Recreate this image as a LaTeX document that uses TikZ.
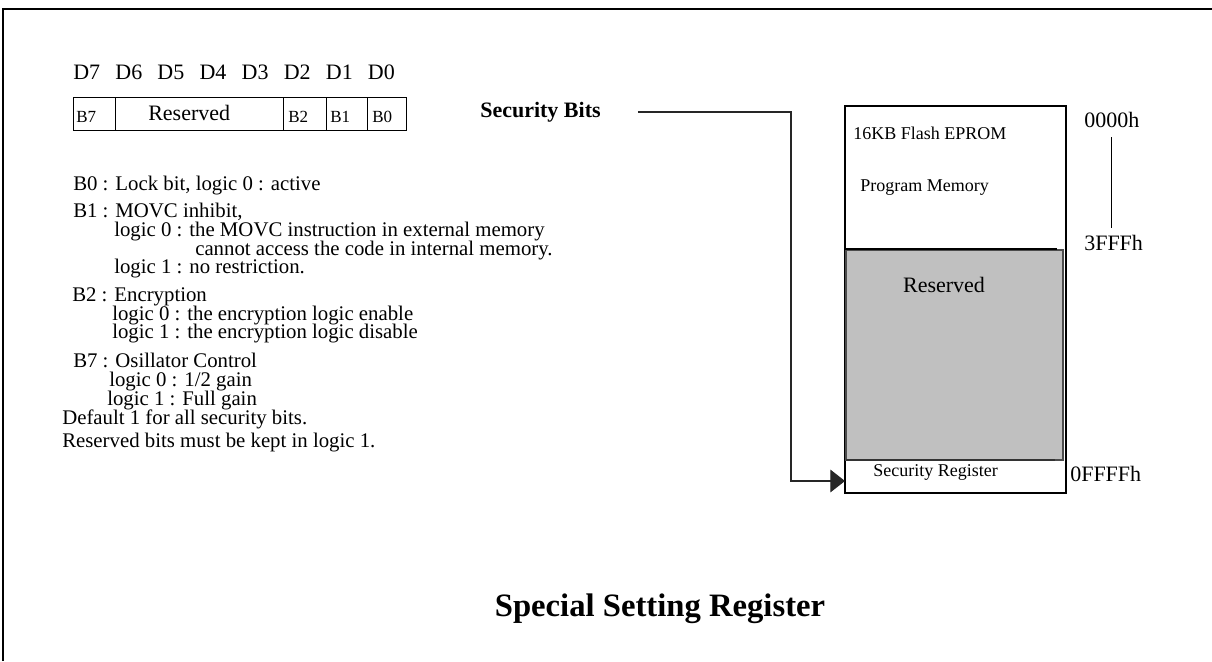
\documentclass[tikz,border=0pt]{standalone}
\usepackage{fontspec}
\setmainfont{Liberation Serif}
\usetikzlibrary{arrows.meta}
\definecolor{memgray}{HTML}{C0C0C0}

\begin{document}
\begin{tikzpicture}[x=0.75pt,y=-0.75pt,
	txt/.style={anchor=base west,inner sep=0pt,font=\fontsize{15.6}{18}\selectfont},
	big/.style={inner sep=0pt,font=\fontsize{16.5}{19}\selectfont},
	cell/.style={anchor=west,inner sep=0pt,font=\fontsize{12.75}{15}\selectfont},
	memtxt/.style={anchor=west,inner sep=0pt,font=\fontsize{13.5}{16}\selectfont},
	wire/.style={draw=black!85,line width=0.9pt}]
\useasboundingbox (0,0) rectangle (1212,661);
% frame
\draw[line width=1.5pt] (3,661) -- (3,9) -- (1212,9);

% bit numbers and register
\foreach \d [count=\i from 0] in {7,6,5,4,3,2,1,0}
	\node[big,anchor=west] (D\d) at ({73+42.1*\i},72) {D\d};
\draw[line width=0.6pt] (73,97) rectangle (406,130);
\foreach \x in {115,283,326,367}
	\draw[line width=0.6pt] (\x,97) -- (\x,130);
\node[cell] (B7) at (76,117) {B7};
\node[big,anchor=west] (rsvbits) at (148,113) {Reserved};
\node[cell] (B2) at (288,117) {B2};
\node[cell] (B1) at (330,117) {B1};
\node[cell] (B0) at (372,117) {B0};

% bit notes
\node[txt] (bzero) at (73,190) {B0 : Lock bit, logic 0 : active};
\node[txt] (bone) at (73,217.5) {B1 : MOVC inhibit,};
\node[txt] (boneA) at (114,236.3) {logic 0 : the MOVC instruction in external memory};
\node[txt] (boneB) at (195,255) {cannot access the code in internal memory.};
\node[txt] (boneC) at (114,273.8) {logic 1 : no restriction.};
\node[txt] (btwo) at (72,301.3) {B2 : Encryption};
\node[txt] (btwoA) at (112,320.1) {logic 0 : the encryption logic enable};
\node[txt] (btwoB) at (112,338.8) {logic 1 : the encryption logic disable};
\node[txt] (bseven) at (73,367.6) {B7 : Osillator Control};
\node[txt] (bsevenA) at (109,386.4) {logic 0 : 1/2 gain};
\node[txt] (bsevenB) at (107,405.2) {logic 1 : Full gain};
\node[txt] (dflt) at (62,424) {Default 1 for all security bits.};
\node[txt] (rsvnote) at (62,447) {Reserved bits must be kept in logic 1.};

% memory map
\draw[line width=0.8pt] (845,106) rectangle (1066,493);
\draw[fill=memgray,draw=black!70,line width=0.8pt] (846,250) rectangle (1063,460);
\draw[line width=0.8pt] (845,249) -- (1057,249);
\draw[line width=1.5pt,draw=black!80] (846,460) -- (1055,460);
\node[memtxt] (flash) at (853,133) {16KB Flash EPROM};
\node[memtxt] (prog) at (860,188) {Program Memory};
\node[big] (rsvmem) at (944,285) {Reserved};
\node[memtxt] (secreg) at (873,472) {Security Register};
\node[big,anchor=west] (adr0) at (1084,120) {0000h};
\node[big,anchor=west] (adr1) at (1084,243) {3FFFh};
\node[big,anchor=west] (adr2) at (1070,474) {0FFFFh};
\draw[line width=0.6pt,shorten <=7pt,shorten >=5pt] (adr0.south) -- (adr0.south |- adr1.north);

% security bits pointer
\node[big,anchor=west,font=\bfseries\fontsize{16.5}{19}\selectfont] (sbits) at (480,112) {Security Bits};
\coordinate (turn) at (791,111);
\coordinate (secin) at (845,481);
\draw[wire,shorten <=27.75pt,-{Triangle[length=11pt,width=17pt]}] (sbits.east) -- (sbits.east -| turn) |- (secin);

\node[font=\bfseries\fontsize{24.5}{28}\selectfont] (title) at (660,609) {Special Setting Register};
\end{tikzpicture}
\end{document}
